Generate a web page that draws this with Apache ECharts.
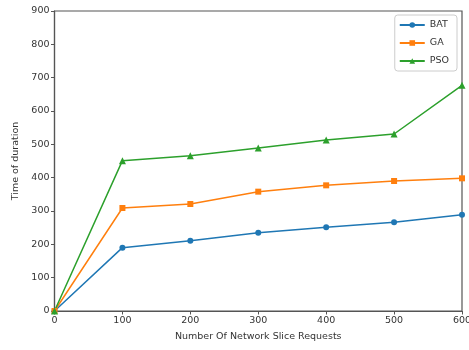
<!DOCTYPE html>
<html><head><meta charset="utf-8">
<script src="https://cdn.jsdelivr.net/npm/echarts@6/dist/echarts.min.js"></script>
<style>html,body{margin:0;padding:0;background:#fff}#c{width:469px;height:350px}</style>
</head><body><div id="c"></div>
<script>
const xValues = [0, 100, 200, 300, 400, 500, 600];
const bat = [0, 190, 211, 235, 251, 266, 289];
const ga  = [0, 309, 321, 358, 377, 390, 398];
const pso = [0, 451, 466, 489, 513, 531, 677];
const seriesNames = ['BAT', 'GA', 'PSO'];

const font = 'DejaVu Sans';
const chart = echarts.init(document.getElementById('c'));
function mk(name, data, color, symbol, size) {
  return {
    name, type: 'line', data: xValues.map((x, i) => [x, data[i]]),
    symbol, symbolSize: size, showSymbol: true,
    lineStyle: { color, width: 1.5 }, itemStyle: { color },
    animation: false, z: 3
  };
}
chart.setOption({
  animation: false,
  grid: { left: 54.5, right: 7, top: 11, bottom: 39, show: true, borderColor: '#555', borderWidth: 1.2,
          containLabel: false, outerBoundsMode: 'none' },
  xAxis: {
    type: 'value', min: 0, max: 600, interval: 100,
    name: 'Number Of Network Slice Requests', nameLocation: 'middle', nameGap: 21,
    nameTextStyle: { fontFamily: font, fontSize: 9.5, color: '#333' },
    axisLine: { show: true, lineStyle: { color: '#555', width: 1.2 } },
    axisTick: { show: true, length: 3.5, lineStyle: { color: '#555' } },
    axisLabel: { fontFamily: font, fontSize: 9.5, color: '#333', margin: 5, showMaxLabel: true },
    splitLine: { show: false }
  },
  yAxis: {
    type: 'value', min: 0, max: 900, interval: 100,
    name: 'Time of duration', nameLocation: 'middle', nameGap: 34,
    nameTextStyle: { fontFamily: font, fontSize: 9.5, color: '#333' },
    axisLine: { show: true, lineStyle: { color: '#555', width: 1.2 } },
    axisTick: { show: true, length: 3.5, lineStyle: { color: '#555' } },
    axisLabel: { fontFamily: font, fontSize: 9.5, color: '#333', margin: 5 },
    splitLine: { show: false }
  },
  legend: {
    data: seriesNames, orient: 'vertical', right: 12, top: 15,
    itemWidth: 25, itemHeight: 7, itemGap: 8,
    borderColor: '#ccc', borderWidth: 1, borderRadius: 3, padding: [5, 8, 5, 4],
    textStyle: { fontFamily: font, fontSize: 9.5, color: '#333' }
  },
  series: [
    mk('BAT', bat, '#1f77b4', 'circle', 6),
    mk('GA', ga, '#ff7f0e', 'rect', 6),
    mk('PSO', pso, '#2ca02c', 'triangle', 7)
  ]
});
</script></body></html>
